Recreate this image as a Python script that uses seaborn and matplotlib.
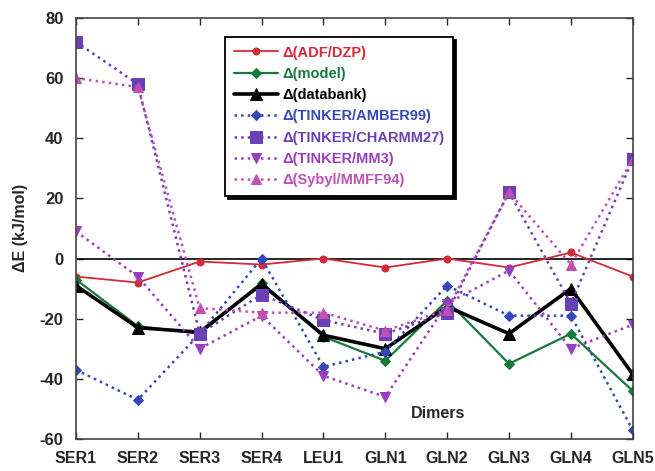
import numpy as np
import pandas as pd
import matplotlib
matplotlib.use("Agg")
import matplotlib.pyplot as plt
import seaborn as sns

sns.set_style("ticks")
plt.rcParams['font.family'] = ['Liberation Sans', 'DejaVu Sans']
plt.rcParams['font.weight'] = 'bold'
plt.rcParams['axes.unicode_minus'] = False

dimers = ["SER1", "SER2", "SER3", "SER4", "LEU1", "GLN1", "GLN2", "GLN3", "GLN4", "GLN5"]

adf_dzp = [-6, -8, -1, -2, 0, -3, 0, -3, 2, -6]
model = [-7, -22.5, -25, -8, -26, -34, -14, -35, -25, -44]
databank = [-9, -23, -24.5, -8.5, -25.5, -30, -16, -25, -10, -38.5]
amber99 = [-37, -47, -25, 0, -36, -31, -9, -19, -19, -57]
charmm27 = [72, 58, -25, -12, -20.5, -25, -18, 22, -15, 33]
mm3 = [9, -6, -30, -19, -39, -46, -15, -4, -30, -22]
mmff94 = [60, 57, -16.5, -18, -18, -24, -17, 22, -2, 33]

series = [
    ("Δ(ADF/DZP)", adf_dzp, "#d42a36", "-", "o", 5, 1.3),
    ("Δ(model)", model, "#177a3c", "-", "D", 5, 1.6),
    ("Δ(databank)", databank, "#000000", "-", "^", 8, 2.6),
    ("Δ(TINKER/AMBER99)", amber99, "#3548b8", ":", "D", 5.5, 1.8),
    ("Δ(TINKER/CHARMM27)", charmm27, "#6a40b8", ":", "s", 8, 1.8),
    ("Δ(TINKER/MM3)", mm3, "#9a3ec0", ":", "v", 7, 1.8),
    ("Δ(Sybyl/MMFF94)", mmff94, "#c050b4", ":", "^", 7, 1.8),
]

fig = plt.figure(figsize=(6.55, 4.71), dpi=100)
ax = fig.add_axes([0.116, 0.068, 0.850, 0.894])

x = np.arange(len(dimers))
ax.axhline(0, color="black", lw=1.2, zorder=1)
for label, vals, col, ls, mk, ms, lw in series:
    df = pd.DataFrame({"x": x, "y": vals})
    sns.lineplot(data=df, x="x", y="y", ax=ax, color=col, linestyle=ls, marker=mk,
                 markersize=ms, markeredgecolor=col, linewidth=lw, label=label)

ax.set_xlim(0, 9)
ax.set_ylim(-60, 80)
ax.set_xticks(x)
ax.set_xticklabels(dimers)
ax.set_yticks(np.arange(-60, 81, 20))
ax.tick_params(direction="in", top=True, right=True, length=5, width=1, labelsize=12)
ax.tick_params(axis="x", pad=9, labelsize=11.5)
ax.tick_params(axis="y", pad=9)
for s in ax.spines.values():
    s.set_linewidth(1.2)
    s.set_color("#444444")
ax.set_xlabel("")
ax.set_ylabel("ΔE (kJ/mol)", fontsize=11.5, fontweight="bold", labelpad=8)
ax.text(0.65, 0.05, "Dimers", transform=ax.transAxes, fontsize=11.5, fontweight="bold", ha="center")

leg = ax.legend(loc="upper left", bbox_to_anchor=(0.268, 0.955), borderaxespad=0,
                frameon=True, fancybox=False, framealpha=1, edgecolor="black",
                shadow={"color": "black", "alpha": 1}, labelcolor="linecolor",
                handlelength=3.0, handletextpad=0.3, labelspacing=0.5,
                borderpad=0.6, prop={"size": 10.5, "weight": "bold"})
leg.get_frame().set_linewidth(1.3)

fig.savefig("out.png", dpi=100)
